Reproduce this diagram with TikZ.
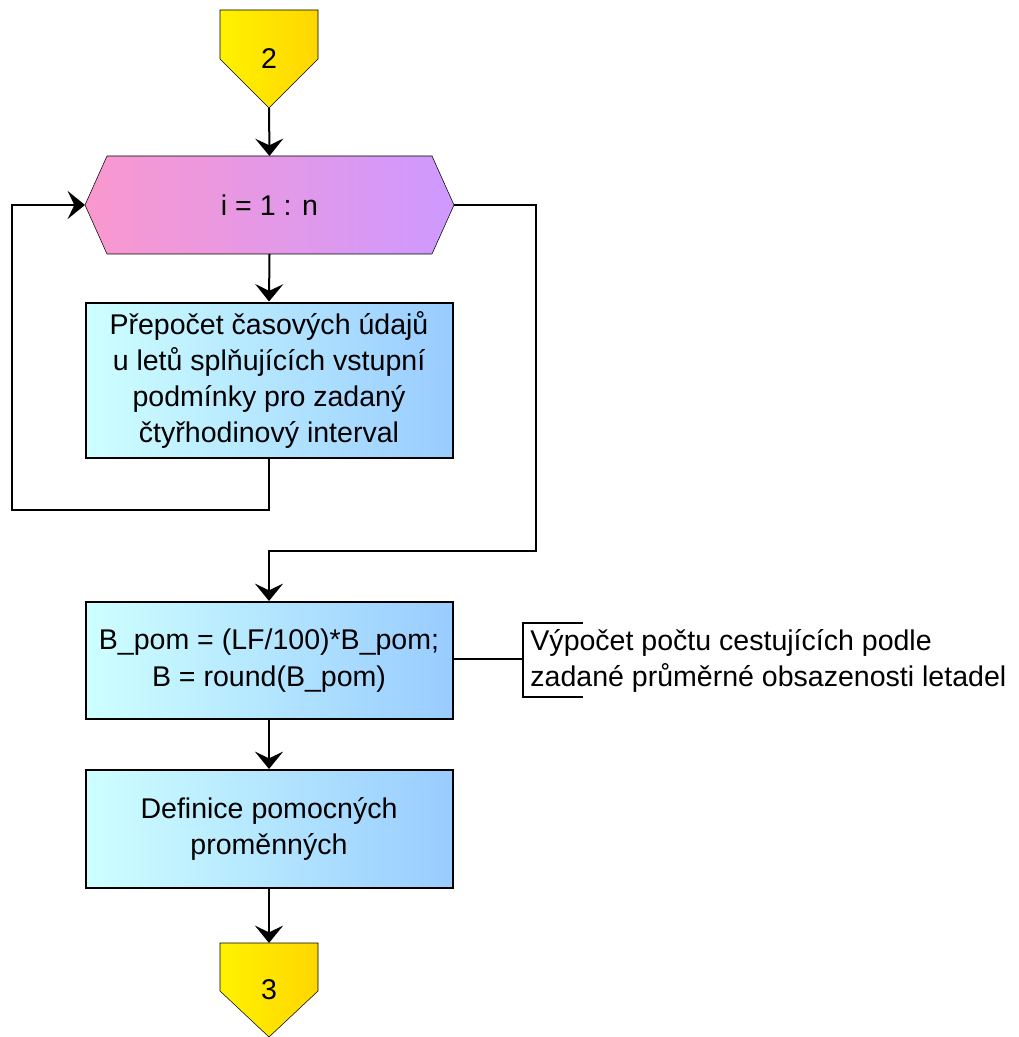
\documentclass[tikz,border=0pt]{standalone}
\usepackage{fontspec}
\setmainfont{Liberation Sans}
\usetikzlibrary{arrows.meta,calc,backgrounds}

\definecolor{boxL}{RGB}{206,255,255}
\definecolor{boxR}{RGB}{153,204,255}
\definecolor{hexL}{RGB}{250,152,206}
\definecolor{hexR}{RGB}{206,153,255}
\definecolor{conL}{RGB}{255,242,0}
\definecolor{conR}{RGB}{255,214,0}

\begin{document}
\begin{tikzpicture}[x=0.75pt,y=-0.75pt,
  line width=1.5pt,
  txt/.style={font=\fontsize{21.4}{27.2}\selectfont, align=center, text=black},
  procbox/.style={draw, left color=boxL, right color=boxR,
                  minimum width=275.25pt, inner sep=0pt, txt},
  hidden/.style={inner sep=0pt, txt},
  arr/.style={-{Stealth[length=13pt,width=21pt,inset=5pt]}}
]
\useasboundingbox (0,0) rectangle (1019,1037);

% off-page connector "2"
\node[hidden, minimum width=72pt, minimum height=72pt] (c2) at (269,59) {2};
% loop header
\node[hidden, minimum width=275.25pt, minimum height=72pt] (hex) at (269.5,205) {i = 1 : n};
% process boxes
\node[procbox, minimum height=116.25pt] (b1) at (269,380)
  {Přepočet časových údajů\\u letů splňujících vstupní\\podmínky pro zadaný\\čtyřhodinový interval};
\node[procbox, minimum height=87.75pt] (b2) at (269,660.5)
  {B\_pom = (LF/100)*B\_pom;\\B = round(B\_pom)};
\node[procbox, minimum height=88.5pt] (b3) at (269,829)
  {Definice pomocných\\proměnných};
% off-page connector "3"
\node[hidden, minimum width=72pt, minimum height=69pt] (c3) at (269,990) {3};

% comment
\node[txt, align=left, anchor=west] (note) at (525,661)
  {Výpočet počtu cestujících podle\\zadané průměrné obsazenosti letadel};

% shapes drawn behind the labels
\begin{scope}[on background layer]
  \draw[left color=conL, right color=conR]
    (c2.north west) -- (c2.north east) -- ($(c2.north east)+(0,49)$)
    -- (c2.south) -- ($(c2.north west)+(0,49)$) -- cycle;
  \draw[left color=hexL, right color=hexR]
    (hex.west) -- ($(hex.north west)+(22,0)$) -- ($(hex.north east)+(-22,0)$)
    -- (hex.east) -- ($(hex.south east)+(-22,0)$) -- ($(hex.south west)+(22,0)$) -- cycle;
  \draw[left color=conL, right color=conR]
    (c3.north west) -- (c3.north east) -- ($(c3.north east)+(0,48)$)
    -- (c3.south) -- ($(c3.north west)+(0,48)$) -- cycle;
\end{scope}

% routing points
\coordinate (loopL) at (12,510);
\coordinate (loopR) at (536,551);
\coordinate (brk) at (523,659);

% connectors
\draw[arr] (c2.south) -- (hex.north);
\draw[arr] (hex.south) -- (b1.north);
\draw[arr] (b1.south) |- (loopL) |- (hex.west);
\draw[arr] (hex.east) -| (loopR) -| (b2.north);
\draw[arr] (b2.south) -- (b3.north);
\draw[arr] (b3.south) -- (c3.north);

% comment bracket
\draw (brk -| b2.east) -- (brk);
\draw ($(brk)+(60,-36)$) -- ++(-60,0) -- ++(0,74) -- ++(60,0);
\end{tikzpicture}
\end{document}
